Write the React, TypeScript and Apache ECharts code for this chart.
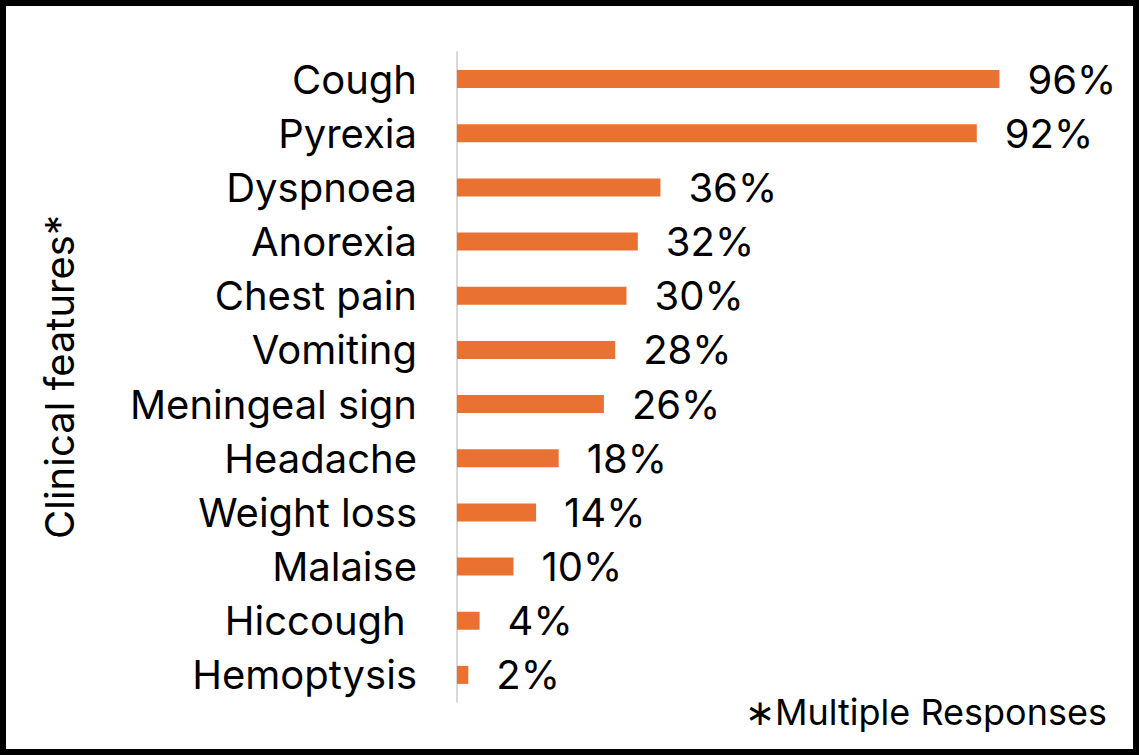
import React, { useEffect, useRef } from "react";
import * as echarts from "echarts";

const categories = [
  "Cough",
  "Pyrexia",
  "Dyspnoea",
  "Anorexia",
  "Chest pain",
  "Vomiting",
  "Meningeal sign",
  "Headache",
  "Weight loss",
  "Malaise",
  "Hiccough\u00a0",
  "Hemoptysis",
];
const values = [96, 92, 36, 32, 30, 28, 26, 18, 14, 10, 4, 2];
const axisTitle = "Clinical features*";
const note = "\u2217Multiple Responses";

const FONT = "Inter, 'Noto Sans', sans-serif";

export default function App() {
  const ref = useRef<HTMLDivElement>(null);
  useEffect(() => {
    if (!ref.current) return;
    const chart = echarts.init(ref.current, undefined, { renderer: "svg" });
    chart.setOption({
      animation: false,
      backgroundColor: "#ffffff",
      grid: { left: 457, right: 117, top: 52, bottom: 53, containLabel: false },
      xAxis: {
        type: "value",
        min: 0,
        max: 100,
        show: false,
      },
      yAxis: {
        type: "category",
        data: categories,
        inverse: true,
        axisLine: { show: true, lineStyle: { color: "#d9d9d9", width: 2 } },
        axisTick: { show: false },
        axisLabel: {
          color: "#000",
          fontSize: 40,
          fontFamily: FONT,
          margin: 40,
        },
        name: axisTitle,
        nameLocation: "middle",
        nameGap: 378,
        nameRotate: 90,
        nameTextStyle: { color: "#000", fontSize: 40, fontFamily: FONT },
      },
      series: [
        {
          type: "bar",
          data: values,
          barWidth: 18,
          itemStyle: { color: "#E97132" },
          label: {
            show: true,
            position: "right",
            distance: 28,
            formatter: "{c}%",
            color: "#000",
            fontSize: 40,
            fontFamily: FONT,
          },
        },
      ],
      graphic: [
        {
          type: "rect",
          shape: { x: 3, y: 3, width: 1133, height: 749 },
          style: { fill: "none", stroke: "#000", lineWidth: 6 },
          silent: true,
        },
        {
          type: "text",
          left: 745,
          top: 694,
          style: {
            text: note,
            fontSize: 36,
            fontFamily: FONT,
            fill: "#000",
          },
        },
      ],
    });
    return () => chart.dispose();
  }, []);
  return (
    <div
      ref={ref}
      style={{ position: "fixed", left: 0, top: 0, width: 1139, height: 755 }}
    />
  );
}
